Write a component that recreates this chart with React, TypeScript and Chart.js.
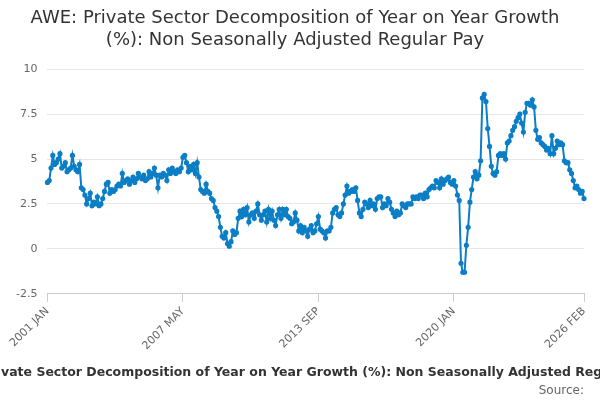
import React, { useEffect, useRef } from 'react'
import { Chart, registerables, Plugin } from 'chart.js'

Chart.register(...registerables)

const monthNames = ['JAN', 'FEB', 'MAR', 'APR', 'MAY', 'JUN', 'JUL', 'AUG', 'SEP', 'OCT', 'NOV', 'DEC']
const shownLabels = ['2001 JAN', '2007 MAY', '2013 SEP', '2020 JAN', '2026 FEB']
const axisTitle = 'AWE: Private Sector Decomposition of Year on Year Growth (%): Non Seasonally Adjusted Regular Pay'

// yearly rows of monthly values, 2001 Jan .. 2026 Feb
const growth: number[][] = [
	[3.7, 3.8, 4.5, 5.2, 4.7, 4.8, 5.0, 5.3, 4.5, 4.6, 4.8, 4.3],
	[4.4, 4.5, 5.2, 4.6, 4.4, 4.3, 4.7, 3.4, 3.3, 3.0, 2.5, 2.8],
	[3.1, 2.4, 2.6, 2.5, 2.9, 2.4, 2.5, 2.8, 3.2, 3.6, 3.7, 3.1],
	[3.3, 3.2, 3.3, 3.5, 3.6, 3.5, 4.2, 3.7, 3.8, 3.9, 3.6, 3.8],
	[4.0, 3.7, 3.9, 4.2, 4.0, 3.9, 4.1, 3.8, 3.9, 4.3, 4.0, 4.2],
	[4.5, 4.1, 3.4, 4.1, 4.0, 4.2, 4.1, 3.8, 4.4, 4.2, 4.5, 4.3],
	[4.2, 4.4, 4.3, 4.5, 5.1, 5.2, 4.8, 4.3, 4.6, 4.4, 4.7, 4.2],
	[4.8, 4.0, 3.3, 3.2, 3.1, 3.6, 3.2, 3.1, 2.8, 2.7, 2.3, 2.1],
	[1.8, 1.2, 0.7, 0.6, 0.9, 0.3, 0.15, 0.4, 1.0, 0.8, 0.9, 1.7],
	[2.1, 1.8, 2.2, 1.9, 2.3, 1.5, 1.9, 2.0, 1.7, 2.1, 2.5, 1.9],
	[1.6, 1.9, 2.1, 1.5, 2.2, 1.7, 2.1, 1.6, 1.3, 1.9, 2.2, 1.7],
	[2.2, 1.9, 2.2, 1.8, 1.7, 1.4, 1.5, 2.0, 1.6, 1.0, 1.3, 0.9],
	[1.2, 1.0, 0.7, 1.1, 1.3, 0.9, 1.0, 1.4, 1.8, 1.1, 1.0, 0.9],
	[0.6, 1.0, 1.0, 1.2, 2.0, 2.2, 2.3, 1.9, 1.8, 2.0, 2.5, 3.0],
	[3.5, 3.1, 3.2, 3.3, 3.2, 3.4, 2.7, 2.0, 1.8, 2.2, 2.6, 2.5],
	[2.3, 2.7, 2.4, 2.5, 2.2, 2.8, 2.9, 2.9, 2.3, 2.5, 2.4, 2.8],
	[2.6, 2.2, 2.0, 1.8, 2.1, 1.9, 2.0, 2.5, 2.4, 2.3, 2.5, 2.5],
	[2.5, 2.9, 2.8, 2.9, 2.8, 3.0, 3.0, 2.8, 3.1, 2.9, 3.3, 3.4],
	[3.5, 3.4, 3.8, 3.7, 3.4, 3.9, 3.6, 3.8, 3.9, 4.0, 3.7, 3.6],
	[3.8, 3.5, 3.0, 2.7, -0.8, -1.3, -1.3, 0.2, 1.2, 2.6, 3.3, 4.0],
	[4.3, 3.9, 4.1, 4.9, 8.4, 8.6, 8.2, 6.7, 5.7, 4.6, 4.2, 4.1],
	[4.3, 5.2, 5.3, 5.2, 5.3, 5.0, 5.9, 6.0, 6.3, 6.6, 6.8, 7.1],
	[7.3, 7.5, 7.0, 6.5, 7.6, 8.1, 8.1, 8.0, 8.3, 7.9, 6.6, 6.1],
	[6.2, 5.9, 5.8, 5.7, 5.5, 5.6, 5.3, 6.3, 5.3, 5.6, 6.0, 5.8],
	[5.9, 5.8, 4.9, 4.8, 4.8, 4.4, 4.2, 3.8, 3.4, 3.5, 3.3, 3.1],
	[3.2, 2.8],
]

const values = growth.flat()
const labels = values.map((_, i) => `${2001 + Math.floor(i / 12)} ${monthNames[i % 12]}`)

const font = "'DejaVu Sans', sans-serif"
const isShown = (i: number) => shownLabels.includes(labels[i])

// the axis title is wider than the canvas and gets cut at both edges
const axisTitlePlugin: Plugin<'line'> = {
	id: 'axisTitle',
	afterDraw(chart) {
		const c = chart.ctx
		c.save()
		c.font = `bold 12.5px ${font}`
		c.fillStyle = '#333'
		c.textAlign = 'center'
		c.textBaseline = 'middle'
		c.fillText(axisTitle, chart.width / 2, 373)
		c.restore()
	},
}

const App: React.FC = () => {
	const chartRef = useRef<HTMLCanvasElement>(null)

	useEffect(() => {
		document.body.style.margin = '0'
		if (!chartRef.current) return
		const ctx = chartRef.current.getContext('2d')
		if (!ctx) return
		const chart = new Chart(ctx, {
			type: 'line',
			data: {
				labels,
				datasets: [
					{
						data: values,
						borderColor: '#0b7ec6',
						backgroundColor: '#0b7ec6',
						borderWidth: 2,
						pointRadius: 1.6,
						pointHoverRadius: 3,
						tension: 0,
					},
				],
			},
			options: {
				animation: false,
				responsive: true,
				maintainAspectRatio: false,
				layout: { padding: { left: 6, right: 16, top: 0, bottom: 0 } },
				plugins: {
					legend: { display: false },
					title: {
						display: true,
						text: ['AWE: Private Sector Decomposition of Year on Year Growth', '(%): Non Seasonally Adjusted Regular Pay'],
						color: '#333',
						font: { family: font, size: 18, weight: 'normal', lineHeight: 1.2 },
						padding: { top: 8, bottom: 18 },
					},
					subtitle: {
						display: true,
						position: 'bottom',
						align: 'end',
						text: 'Source:',
						color: '#666',
						font: { family: font, size: 12 },
						padding: { top: 28, bottom: 2 },
					},
				},
				scales: {
					x: {
						grid: {
							display: true,
							drawOnChartArea: false,
							tickLength: 8,
							tickColor: (c) => (isShown(c.index) ? '#ccc' : 'rgba(0,0,0,0)'),
						},
						border: { color: '#ccc' },
						ticks: {
							autoSkip: false,
							maxRotation: 45,
							minRotation: 45,
							color: '#666',
							font: { family: font, size: 11 },
							callback: (_v, i) => (isShown(i) ? labels[i] : ''),
						},
					},
					y: {
						min: -2.5,
						max: 10,
						ticks: { stepSize: 2.5, color: '#666', font: { family: font, size: 11 }, padding: 10 },
						grid: { color: '#e6e6e6', drawTicks: false },
						border: { display: false },
					},
				},
			},
			plugins: [axisTitlePlugin],
		})
		return () => chart.destroy()
	}, [])

	return (
		<div style={{ width: 600, height: 400, position: 'relative' }}>
			<canvas ref={chartRef} />
		</div>
	)
}

export default App
